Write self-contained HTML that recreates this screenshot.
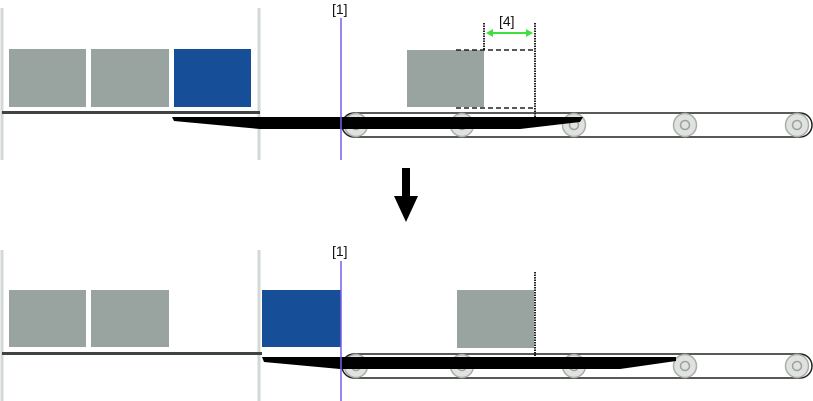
<!DOCTYPE html>
<html><head><meta charset="utf-8"><style>
html,body{margin:0;padding:0;background:#fff;}
svg{display:block;}
text{font-family:"Liberation Sans",sans-serif;font-size:14px;fill:#111;}
</style></head><body>
<svg width="813" height="401" viewBox="0 0 813 401" xmlns="http://www.w3.org/2000/svg">
<defs>
<g id="roller"><circle r="11.5" fill="#dfe2df" stroke="#a9aea9" stroke-width="1.5"/><circle r="4.5" fill="none" stroke="#9da29d" stroke-width="1.5"/></g>
</defs>
<!-- TOP PANEL -->
<line x1="2" y1="8" x2="2" y2="160" stroke="#d4d8d4" stroke-width="3"/>
<line x1="259" y1="8" x2="259" y2="160" stroke="#d4d8d4" stroke-width="3"/>
<rect x="9" y="49" width="77" height="58" fill="#99a4a1"/>
<rect x="91" y="49" width="78" height="58" fill="#99a4a1"/>
<rect x="174" y="49" width="77" height="58" fill="#164e98"/>
<line x1="2" y1="112.5" x2="260" y2="112.5" stroke="#3f4442" stroke-width="3"/>
<rect x="342" y="113" width="470" height="24" rx="12" fill="#fff" stroke="#222" stroke-width="1.5"/>
<use href="#roller" x="356" y="125"/><use href="#roller" x="462" y="125"/><use href="#roller" x="574" y="125"/><use href="#roller" x="685" y="125"/><use href="#roller" x="797" y="125"/>
<polygon points="172,117 583,117 580,122 520,129 260,129 174,121" fill="#000"/>
<line x1="341" y1="18" x2="341" y2="160" stroke="#7a5cf0" stroke-width="1.5"/>
<text x="332" y="14">[1]</text>
<rect x="407" y="50" width="77" height="57" fill="#99a4a1"/>
<path d="M456 50 H535 M456 108 H535" stroke="#222" stroke-width="1.5" stroke-dasharray="5,3" fill="none"/>
<line x1="484" y1="23" x2="484" y2="50" stroke="#222" stroke-width="2" stroke-dasharray="1.5,1"/>
<line x1="535" y1="23" x2="535" y2="118" stroke="#222" stroke-width="2" stroke-dasharray="1.5,1"/>
<line x1="490" y1="33" x2="529" y2="33" stroke="#3ee03e" stroke-width="2"/>
<polygon points="486,33 493,29 493,37" fill="#3ee03e"/><polygon points="533,33 526,29 526,37" fill="#3ee03e"/>
<text x="499" y="26">[4]</text>
<!-- ARROW -->
<rect x="402" y="168" width="8" height="28" fill="#000"/>
<polygon points="394,196 418,196 406,222" fill="#000"/>
<!-- BOTTOM PANEL -->
<line x1="2" y1="250" x2="2" y2="401" stroke="#d4d8d4" stroke-width="3"/>
<line x1="259" y1="250" x2="259" y2="401" stroke="#d4d8d4" stroke-width="3"/>
<rect x="9" y="290" width="77" height="57" fill="#99a4a1"/>
<rect x="91" y="290" width="78" height="57" fill="#99a4a1"/>
<line x1="2" y1="353.5" x2="262" y2="353.5" stroke="#3f4442" stroke-width="3"/>
<rect x="262" y="290" width="79" height="57" fill="#164e98"/>
<rect x="342" y="354" width="470" height="24" rx="12" fill="#fff" stroke="#222" stroke-width="1.5"/>
<use href="#roller" x="356" y="366"/><use href="#roller" x="462" y="366"/><use href="#roller" x="574" y="366"/><use href="#roller" x="685" y="366"/><use href="#roller" x="797" y="366"/>
<polygon points="262,357 676,357 676,361 620,369 340,369 264,362" fill="#000"/>
<line x1="341" y1="261" x2="341" y2="401" stroke="#7a5cf0" stroke-width="1.5"/>
<text x="332" y="256">[1]</text>
<rect x="457" y="290" width="77" height="58" fill="#99a4a1"/>
<line x1="535" y1="272" x2="535" y2="357" stroke="#222" stroke-width="2" stroke-dasharray="1.5,1"/>
</svg>
</body></html>
